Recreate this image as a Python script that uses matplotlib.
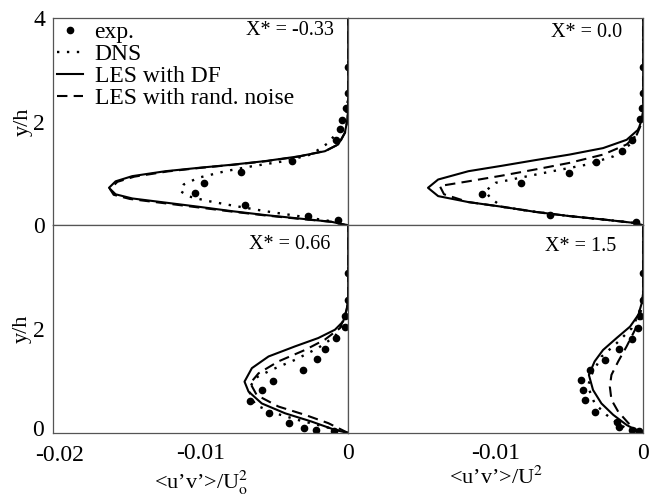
import numpy as np
import matplotlib
matplotlib.use("Agg")
import matplotlib.pyplot as plt
from matplotlib.transforms import ScaledTranslation

plt.rcParams["font.family"] = ["Liberation Serif", "DejaVu Serif"]
plt.rcParams["mathtext.fontset"] = "stix"

# ---- X* = -0.33 ----
exp1_x = [0, 0, -0.00012, -0.00045, -0.00056, -0.00086, -0.00383, -0.00725, -0.0098, -0.0104, -0.00698, -0.0027, -0.00068]
exp1_y = [3.06, 2.55, 2.26, 2.04, 1.85, 1.64, 1.24, 1.03, 0.82, 0.63, 0.40, 0.19, 0.10]
dns1_x = [0, -0.00113, -0.00338, -0.00563, -0.00788, -0.00968, -0.01081, -0.01137, -0.01115, -0.01014, -0.00833,
          -0.00653, -0.00428, -0.00248, -0.00135, -0.00079, -0.00034, -0.0001, 0, 0]
dns1_y = [0, 0.08, 0.18, 0.275, 0.385, 0.48, 0.56, 0.66, 0.79, 0.92, 1.045,
          1.14, 1.24, 1.37, 1.59, 1.78, 1.975, 2.2, 2.5, 4]
df1_x = [0, -0.00113, -0.00338, -0.00563, -0.00788, -0.01014, -0.01239, -0.01464, -0.01577, -0.01622, -0.01577,
         -0.01464, -0.01239, -0.01014, -0.00788, -0.00563, -0.00338, -0.00158, -0.00068, -0.00023, -0.00005, 0, 0]
df1_y = [0, 0.07, 0.135, 0.20, 0.275, 0.36, 0.44, 0.52, 0.60, 0.725, 0.85,
         0.95, 1.045, 1.11, 1.17, 1.24, 1.33, 1.43, 1.56, 1.78, 2.04, 2.3, 4]
rn1_x = [0, -0.00115, -0.00342, -0.0057, -0.00797, -0.01025, -0.01252, -0.0148, -0.0159, -0.01615, -0.01565,
         -0.0145, -0.01225, -0.01, -0.00775, -0.0055, -0.0033, -0.0015, -0.00062, -0.0002, -0.00004, 0, 0]
rn1_y = [0, 0.07, 0.13, 0.195, 0.27, 0.35, 0.43, 0.51, 0.59, 0.70, 0.84,
         0.94, 1.04, 1.11, 1.17, 1.24, 1.33, 1.44, 1.57, 1.80, 2.06, 2.3, 4]

# ---- X* = 0.0 ----
exp2_x = [0, 0, -0.0001, -0.0002, -0.00077, -0.00146, -0.0032, -0.005, -0.0083, -0.0109, -0.0063, -0.0005]
exp2_y = [3.06, 2.55, 2.26, 2.05, 1.65, 1.43, 1.22, 1.01, 0.82, 0.61, 0.21, 0.06]
dns2_x = [0, -0.00066, -0.00272, -0.005, -0.00728, -0.00957, -0.01036, -0.0107, -0.01002, -0.00842, -0.00614,
          -0.00386, -0.00203, -0.00089, -0.00043, -0.0001, 0, 0]
dns2_y = [0, 0.05, 0.115, 0.18, 0.26, 0.36, 0.53, 0.66, 0.82, 0.915, 1.045,
          1.17, 1.33, 1.56, 1.78, 2.0, 2.2, 4]
df2_x = [0, -0.00066, -0.00272, -0.005, -0.00728, -0.00957, -0.01185, -0.0139, -0.01459, -0.0139, -0.01185,
         -0.00957, -0.00728, -0.005, -0.00272, -0.00112, -0.00032, -0.0001, 0, 0]
df2_y = [0, 0.05, 0.115, 0.18, 0.26, 0.36, 0.45, 0.565, 0.725, 0.885, 1.045,
         1.15, 1.26, 1.365, 1.49, 1.65, 1.85, 2.04, 2.2, 4]
rn2_x = [0, -0.00066, -0.00272, -0.005, -0.00728, -0.00957, -0.01185, -0.0135, -0.01379, -0.01185, -0.00957,
         -0.00728, -0.005, -0.00272, -0.00112, -0.00043, -0.0001, 0, 0]
rn2_y = [0, 0.05, 0.115, 0.18, 0.26, 0.36, 0.45, 0.60, 0.76, 0.85, 0.96,
         1.08, 1.205, 1.365, 1.56, 1.75, 1.975, 2.2, 4]

# ---- X* = 0.66 ----
exp3_x = [0, 0, -0.0002, -0.0002, -0.00086, -0.00158, -0.00214, -0.00304, -0.00507, -0.00581, -0.00664, -0.0054, -0.0040, -0.0030, -0.0022, -0.00095]
exp3_y = [3.09, 2.56, 2.25, 2.05, 1.83, 1.62, 1.42, 1.22, 1.01, 0.82, 0.62, 0.39, 0.19, 0.09, 0.06, 0.03]
dns3_x = [0, -0.00158, -0.00338, -0.00495, -0.0063, -0.00676, -0.0063, -0.00518, -0.0036, -0.00203, -0.0009,
          -0.00034, 0, 0]
dns3_y = [0, 0.12, 0.25, 0.38, 0.54, 0.83, 1.06, 1.22, 1.41, 1.64, 1.86,
          2.12, 2.4, 4]
df3_x = [0, -0.0009, -0.00248, -0.00428, -0.00586, -0.00676, -0.00703, -0.00653, -0.0054, -0.0036, -0.00203,
         -0.0009, -0.00034, -0.0001, 0, 0]
df3_y = [0, 0.06, 0.22, 0.38, 0.57, 0.80, 0.99, 1.25, 1.475, 1.67, 1.83,
         1.99, 2.15, 2.38, 2.6, 4]
rn3_x = [0, -0.00135, -0.00293, -0.00473, -0.0062, -0.00664, -0.00608, -0.00473, -0.00293, -0.00158, -0.00056,
         -0.00023, 0, 0]
rn3_y = [0, 0.19, 0.35, 0.51, 0.73, 0.96, 1.15, 1.38, 1.60, 1.80, 2.02,
         2.25, 2.5, 4]

# ---- X* = 1.5 ----
exp4_x = [0, 0, -0.0002, -0.00036, -0.00077, -0.00162, -0.0026, -0.00363, -0.0042, -0.00409, -0.00397, -0.00329, -0.0018, -0.00162, -0.00077, -0.0003]
exp4_y = [3.09, 2.56, 2.25, 2.02, 1.81, 1.62, 1.41, 1.22, 1.02, 0.83, 0.64, 0.41, 0.22, 0.12, 0.06, 0.03]
dns4_x = [0, -0.00066, -0.00158, -0.00249, -0.00329, -0.00375, -0.00351, -0.00283, -0.0018, -0.00077, -0.00032,
          0, 0]
dns4_y = [0, 0.03, 0.155, 0.35, 0.57, 0.895, 1.12, 1.47, 1.73, 2.02, 2.28,
          2.6, 4]
df4_x = [0, -0.00032, -0.00112, -0.00203, -0.00283, -0.0034, -0.00368, -0.00329, -0.00272, -0.0018, -0.00089,
         -0.00032, -0.0001, 0, 0]
df4_y = [0, 0.03, 0.155, 0.35, 0.57, 0.83, 1.12, 1.38, 1.60, 1.83, 2.05,
         2.28, 2.5, 2.7, 4]
rn4_x = [0, -0.00032, -0.001, -0.00169, -0.00215, -0.00226, -0.00215, -0.00169, -0.00112, -0.00055, -0.0002,
         0, 0]
rn4_y = [0, 0.03, 0.19, 0.41, 0.64, 0.895, 1.12, 1.38, 1.67, 1.99, 2.28,
         2.6, 4]

titles = ["X* = -0.33", "X* = 0.0", "X* = 0.66", "X* = 1.5"]
title_pos = [(0.95, 0.94), (0.93, 0.93), (0.94, 0.91), (0.91, 0.90)]

panels = [
    (exp1_x, exp1_y, dns1_x, dns1_y, df1_x, df1_y, rn1_x, rn1_y),
    (exp2_x, exp2_y, dns2_x, dns2_y, df2_x, df2_y, rn2_x, rn2_y),
    (exp3_x, exp3_y, dns3_x, dns3_y, df3_x, df3_y, rn3_x, rn3_y),
    (exp4_x, exp4_y, dns4_x, dns4_y, df4_x, df4_y, rn4_x, rn4_y),
]

fig, axes = plt.subplots(2, 2, figsize=(6.49, 4.96), dpi=100)
fig.subplots_adjust(left=0.082, right=0.991, top=0.964, bottom=0.127, wspace=0, hspace=0)

for ax, title, pos, (ex, ey, dx, dy, fx, fy, rx, ry) in zip(axes.flat, titles, title_pos, panels):
    ax.plot(ex, ey, "o", color="black", ms=4.5, label="exp.")
    ax.plot(dx, dy, color="black", lw=1.7, ls=(0, (1, 3.2)), label="DNS")
    ax.plot(fx, fy, color="black", lw=1.5, ls="-", label="LES with DF")
    ax.plot(rx, ry, color="black", lw=1.5, ls=(0, (5, 3)), label="LES with rand. noise")
    ax.set_xlim(-0.02, 0)
    ax.set_ylim(0, 4)
    ax.text(pos[0], pos[1], title, transform=ax.transAxes, ha="right", va="center", fontsize=14.5)
    ax.tick_params(length=0, labelsize=17)
    ax.tick_params(axis="x", pad=7)
    ax.tick_params(axis="y", pad=6)
    for s in ax.spines.values():
        s.set_color("#555555")
        s.set_linewidth(0.9)

for ax in axes[:, 1]:
    ax.set_yticks([])
for ax in axes[0, :]:
    ax.set_xticks([])

axes[0, 0].set_yticks([0, 2, 4])
axes[1, 0].set_yticks([0, 2])
axes[0, 0].set_ylabel("y/h", fontsize=16, labelpad=0)
axes[1, 0].set_ylabel("y/h", fontsize=16, labelpad=0)

axes[1, 0].set_xticks([-0.02, -0.01, 0])
axes[1, 0].set_xticklabels(["-0.02", "-0.01", "0"])
axes[1, 1].set_xticks([-0.01, 0])
axes[1, 1].set_xticklabels(["-0.01", "0"])
axes[1, 0].set_xlabel("<u\u2019v\u2019>/U$_{\\rm o}^{2}$", fontsize=16, labelpad=2)
axes[1, 1].set_xlabel("<u\u2019v\u2019>/U$^{2}$", fontsize=16, labelpad=2)

# nudge the corner labels apart so "0" and "-0.02" do not collide
lab = axes[1, 0].get_xticklabels()[0]
lab.set_transform(lab.get_transform() + ScaledTranslation(6 / 100, -2 / 100, fig.dpi_scale_trans))
lab0 = axes[1, 0].get_yticklabels()[0]
lab0.set_transform(lab0.get_transform() + ScaledTranslation(-1 / 100, 5 / 100, fig.dpi_scale_trans))

axes[0, 0].legend(loc="upper left", frameon=False, fontsize=17, handlelength=1.1,
                  handletextpad=0.5, borderaxespad=0.0, labelspacing=0.02, borderpad=0.15)

fig.savefig("out.png", dpi=100)
